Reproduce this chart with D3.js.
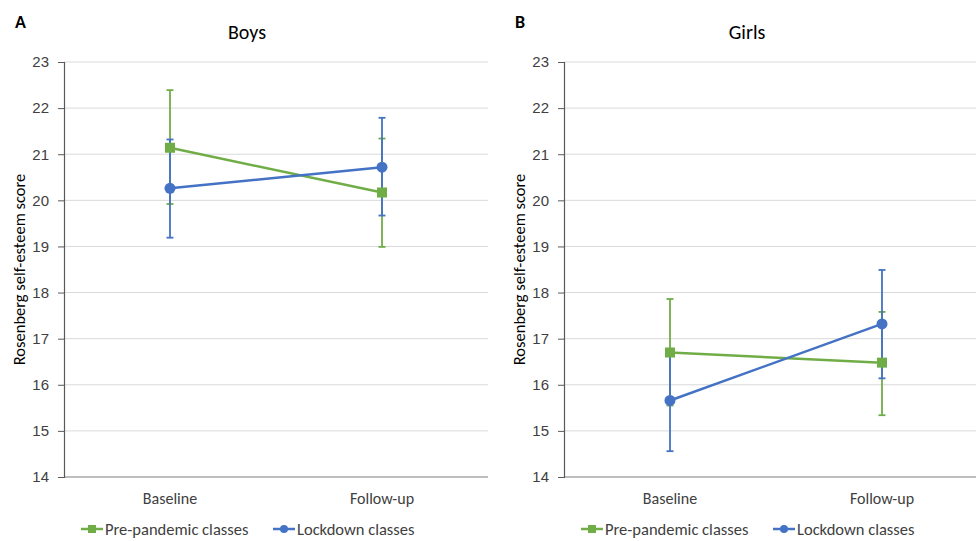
<!DOCTYPE html>
<html>
<head>
<meta charset="utf-8">
<script src="https://cdn.jsdelivr.net/npm/d3@7"></script>
<style>
  body { margin: 0; background: #fff; }
  svg { font-family: Carlito, Calibri, Lato, "Open Sans", sans-serif; }
</style>
</head>
<body>
<div id="chart"></div>
<script>
const timepoints = ['Baseline', 'Follow-up'];
const yTicks = [14, 15, 16, 17, 18, 19, 20, 21, 22, 23];
const seriesNames = ['Pre-pandemic classes', 'Lockdown classes'];

// Boys
const boysPre = [21.14, 20.17];
const boysPreLow = [19.92, 18.99];
const boysPreHigh = [22.39, 21.34];
const boysLock = [20.26, 20.72];
const boysLockLow = [19.19, 19.67];
const boysLockHigh = [21.32, 21.79];

// Girls
const girlsPre = [16.70, 16.48];
const girlsPreLow = [15.55, 15.34];
const girlsPreHigh = [17.86, 17.58];
const girlsLock = [15.66, 17.32];
const girlsLockLow = [14.56, 16.14];
const girlsLockHigh = [16.76, 18.49];

const panels = [
  { letter: 'A', title: 'Boys', left: 0,
    series: [
      { name: seriesNames[0], mean: boysPre, low: boysPreLow, high: boysPreHigh, color: '#70ad47', shape: 'square' },
      { name: seriesNames[1], mean: boysLock, low: boysLockLow, high: boysLockHigh, color: '#4472c4', shape: 'circle' }
    ] },
  { letter: 'B', title: 'Girls', left: 500,
    series: [
      { name: seriesNames[0], mean: girlsPre, low: girlsPreLow, high: girlsPreHigh, color: '#70ad47', shape: 'square' },
      { name: seriesNames[1], mean: girlsLock, low: girlsLockLow, high: girlsLockHigh, color: '#4472c4', shape: 'circle' }
    ] }
];

const W = 976, H = 541;
const margin = { top: 62, left: 64 };
const plotW = 424, plotH = 415;

const svg = d3.select('#chart').append('svg')
  .attr('width', W).attr('height', H);

panels.forEach(p => {
  const g = svg.append('g').attr('transform', `translate(${p.left},0)`);
  const x = d3.scaleBand().domain(timepoints).range([margin.left, margin.left + plotW]);
  const y = d3.scaleLinear().domain([14, 23]).range([margin.top + plotH, margin.top]);
  const cx = d => x(d) + x.bandwidth() / 2;

  // gridlines
  g.append('g').selectAll('line').data(yTicks.slice(1)).enter().append('line')
    .attr('x1', margin.left).attr('x2', margin.left + plotW)
    .attr('y1', d => y(d)).attr('y2', d => y(d))
    .attr('stroke', '#d9d9d9').attr('stroke-width', 1);

  // bottom axis line
  g.append('line')
    .attr('x1', margin.left).attr('x2', margin.left + plotW)
    .attr('y1', y(14)).attr('y2', y(14))
    .attr('stroke', '#7f7f7f').attr('stroke-width', 1.2);

  // y axis
  const yAxis = g.append('g')
    .attr('transform', `translate(${margin.left},0)`)
    .call(d3.axisLeft(y).tickValues(yTicks).tickSize(6).tickPadding(9));
  yAxis.select('.domain').attr('stroke', '#595959').attr('stroke-width', 1.2);
  yAxis.selectAll('.tick line').attr('stroke', '#595959');
  yAxis.selectAll('.tick text').attr('fill', '#404040').style('font-size', '15px');

  // x labels
  g.append('g').selectAll('text').data(timepoints).enter().append('text')
    .attr('x', d => cx(d)).attr('y', 504)
    .attr('text-anchor', 'middle').attr('fill', '#404040')
    .style('font-size', '16px').text(d => d);

  // titles
  g.append('text').attr('x', 15).attr('y', 28)
    .style('font-size', '18px').style('font-weight', 'bold').attr('fill', '#000').text(p.letter);
  g.append('text').attr('x', margin.left + plotW / 2 - 29).attr('y', 39)
    .attr('text-anchor', 'middle').style('font-size', '20px').attr('fill', '#000').text(p.title);
  g.append('text')
    .attr('transform', `translate(25,${margin.top + plotH / 2}) rotate(-90)`)
    .attr('text-anchor', 'middle').style('font-size', '16.5px').attr('fill', '#000')
    .text('Rosenberg self-esteem score');

  // error bars
  p.series.forEach(s => {
    const eg = g.append('g');
    timepoints.forEach((t, i) => {
      eg.append('line').attr('x1', cx(t)).attr('x2', cx(t))
        .attr('y1', y(s.low[i])).attr('y2', y(s.high[i]))
        .attr('stroke', s.color).attr('stroke-width', 1.8);
      [s.low[i], s.high[i]].forEach(v => {
        eg.append('line').attr('x1', cx(t) - 3.5).attr('x2', cx(t) + 3.5)
          .attr('y1', y(v)).attr('y2', y(v))
          .attr('stroke', s.color).attr('stroke-width', 1.8);
      });
    });
  });

  // lines and markers
  const line = d3.line().x((d, i) => cx(timepoints[i])).y(d => y(d));
  p.series.forEach(s => {
    g.append('path').datum(s.mean).attr('d', line)
      .attr('fill', 'none').attr('stroke', s.color).attr('stroke-width', 2.5);
    const mk = g.append('g');
    s.mean.forEach((v, i) => {
      if (s.shape === 'square') {
        mk.append('rect').attr('x', cx(timepoints[i]) - 5).attr('y', y(v) - 5)
          .attr('width', 10).attr('height', 10).attr('fill', s.color);
      } else {
        mk.append('circle').attr('cx', cx(timepoints[i])).attr('cy', y(v))
          .attr('r', 5.5).attr('fill', s.color);
      }
    });
  });

  // legend
  const legX = [81, 273];
  p.series.forEach((s, i) => {
    const lg = g.append('g').attr('transform', `translate(${legX[i]},529)`);
    lg.append('line').attr('x1', 0).attr('x2', 22).attr('y1', 0).attr('y2', 0)
      .attr('stroke', s.color).attr('stroke-width', 2.5);
    if (s.shape === 'square') {
      lg.append('rect').attr('x', 7).attr('y', -4).attr('width', 8).attr('height', 8).attr('fill', s.color);
    } else {
      lg.append('circle').attr('cx', 11).attr('cy', 0).attr('r', 4).attr('fill', s.color);
    }
    lg.append('text').attr('x', 24).attr('y', 6).style('font-size', '16.5px')
      .attr('fill', '#404040').text(s.name);
  });
});
</script>
</body>
</html>
